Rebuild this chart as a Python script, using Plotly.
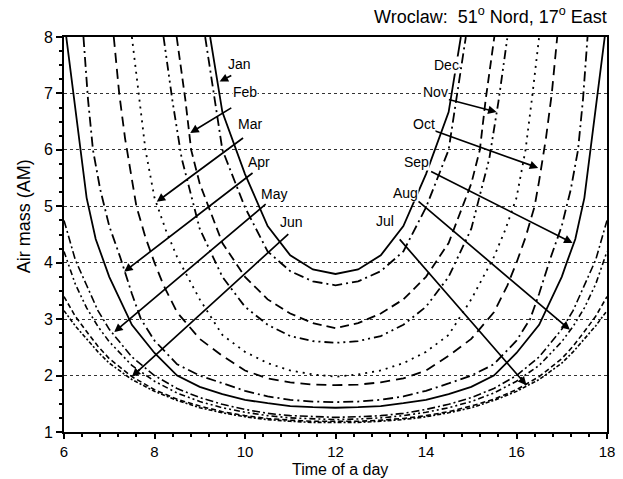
import plotly.graph_objects as go

# Air mass over the day, one curve per month (first day of the month)
JAN_T = [9.23, 9.5, 10, 10.5, 11, 11.5, 12, 12.5, 13, 13.5, 14, 14.5, 14.77]
JAN_AM = [8.0, 6.67, 5.57, 4.65, 4.13, 3.88, 3.80, 3.88, 4.13, 4.65, 5.57, 6.67, 8.0]

DEC_T = [9.12, 9.5, 10, 10.5, 11, 11.5, 12, 12.5, 13, 13.5, 14, 14.5, 14.88]
DEC_AM = [8.0, 6.0, 4.98, 4.2, 3.85, 3.67, 3.60, 3.67, 3.85, 4.2, 4.98, 6.0, 8.0]

FEB_T = [8.49, 8.68, 8.81, 9.0, 9.5, 10, 10.5, 11, 11.5, 12,
         12.5, 13, 13.5, 14, 14.5, 15.0, 15.19, 15.32, 15.51]
FEB_AM = [8.0, 6.9, 6.0, 5.4, 4.35, 3.75, 3.35, 3.1, 2.93, 2.84,
          2.93, 3.1, 3.35, 3.75, 4.35, 5.4, 6.0, 6.9, 8.0]

NOV_T = [8.2, 8.4, 8.6, 9.0, 9.5, 10, 10.5, 11, 11.5, 12,
         12.5, 13, 13.5, 14, 14.5, 15, 15.4, 15.6, 15.8]
NOV_AM = [8.0, 6.85, 5.85, 4.6, 3.75, 3.22, 2.9, 2.7, 2.61, 2.58,
          2.61, 2.7, 2.9, 3.22, 3.75, 4.6, 5.85, 6.85, 8.0]

MAR_T = [7.5, 7.66, 7.8, 8.0, 8.25, 8.5, 9, 9.5, 10, 10.5, 11, 11.5, 12,
         12.5, 13, 13.5, 14, 14.5, 15, 15.5, 15.75, 16.0, 16.2, 16.34, 16.5]
MAR_AM = [8.0, 6.9, 6.0, 5.15, 4.58, 4.1, 3.35, 2.72, 2.42, 2.22, 2.09, 2.02, 1.98,
          2.02, 2.09, 2.22, 2.42, 2.72, 3.35, 4.1, 4.58, 5.15, 6.0, 6.9, 8.0]

OCT_T = [7.1, 7.22, 7.35, 7.5, 7.6, 7.8, 8.0, 8.2, 8.5, 9, 9.5, 10, 10.5, 11, 11.5, 12,
         12.5, 13, 13.5, 14, 14.5, 15, 15.5, 15.8, 16.0, 16.2, 16.4, 16.5, 16.65, 16.78, 16.9]
OCT_AM = [8.0, 7.0, 6.2, 5.45, 5.0, 4.45, 4.0, 3.6, 3.12, 2.65, 2.35, 2.09, 1.95, 1.88, 1.84, 1.83,
          1.84, 1.88, 1.95, 2.09, 2.35, 2.65, 3.12, 3.6, 4.0, 4.45, 5.0, 5.45, 6.2, 7.0, 8.0]

APR_T = [6.43, 6.53, 6.64, 6.8, 7.0, 7.25, 7.5, 7.7, 8.0, 8.5, 9, 9.5, 10, 10.5, 11, 11.5, 12,
         12.5, 13, 13.5, 14, 14.5, 15, 15.5, 16.0, 16.3, 16.5, 16.75, 17.0, 17.2, 17.36, 17.47, 17.57]
APR_AM = [8.0, 6.9, 6.0, 5.3, 4.65, 4.08, 3.45, 3.0, 2.62, 2.2, 2.0, 1.86, 1.73, 1.63, 1.57, 1.54, 1.53,
          1.54, 1.57, 1.63, 1.73, 1.86, 2.0, 2.2, 2.62, 3.0, 3.45, 4.08, 4.65, 5.3, 6.0, 6.9, 8.0]

SEP_T = [6.05, 6.28, 6.5, 6.7, 6.9, 7.0, 7.5, 8.0, 8.5, 9, 9.5, 10, 10.5, 11, 11.5, 12,
         12.5, 13, 13.5, 14, 14.5, 15, 15.5, 16.0, 16.5, 17.0, 17.1, 17.3, 17.5, 17.72, 17.95]
SEP_AM = [8.0, 6.5, 5.15, 4.42, 3.98, 3.75, 2.9, 2.4, 2.0, 1.8, 1.67, 1.57, 1.51, 1.46, 1.44, 1.43,
          1.44, 1.46, 1.51, 1.57, 1.67, 1.8, 2.0, 2.4, 2.9, 3.75, 3.98, 4.42, 5.15, 6.5, 8.0]

SUMMER_T = [6.0, 6.25, 6.5, 6.75, 7.0, 7.5, 8.0, 8.5, 9.0, 9.5, 10.0, 10.5, 11.0, 11.5, 12.0,
            12.5, 13.0, 13.5, 14.0, 14.5, 15.0, 15.5, 16.0, 16.5, 17.0, 17.25, 17.5, 17.75, 18.0]
MAY_AM = [4.75, 4.05, 3.6, 3.15, 2.82, 2.33, 2.0, 1.77, 1.61, 1.49, 1.40, 1.33, 1.29, 1.27, 1.26,
          1.27, 1.29, 1.33, 1.40, 1.49, 1.61, 1.77, 2.0, 2.33, 2.82, 3.15, 3.6, 4.05, 4.75]
AUG_AM = [4.2, 3.62, 3.2, 2.87, 2.6, 2.18, 1.9, 1.69, 1.54, 1.43, 1.35, 1.29, 1.25, 1.23, 1.22,
          1.23, 1.25, 1.29, 1.35, 1.43, 1.54, 1.69, 1.9, 2.18, 2.6, 2.87, 3.2, 3.62, 4.2]
JUN_AM = [3.4, 3.05, 2.78, 2.52, 2.3, 1.98, 1.75, 1.58, 1.46, 1.36, 1.29, 1.24, 1.21, 1.19, 1.19,
          1.19, 1.21, 1.24, 1.29, 1.36, 1.46, 1.58, 1.75, 1.98, 2.3, 2.52, 2.78, 3.05, 3.4]
JUL_AM = [3.15, 2.88, 2.65, 2.42, 2.22, 1.93, 1.72, 1.56, 1.43, 1.34, 1.27, 1.22, 1.19, 1.17, 1.17,
          1.17, 1.19, 1.22, 1.27, 1.34, 1.43, 1.56, 1.72, 1.93, 2.22, 2.42, 2.65, 2.88, 3.15]

MONTHS = ["Jan", "Feb", "Mar", "Apr", "May", "Jun", "Jul", "Aug", "Sep", "Oct", "Nov", "Dec"]
CURVES = {
    "Jan": (JAN_T, JAN_AM), "Dec": (DEC_T, DEC_AM),
    "Feb": (FEB_T, FEB_AM), "Nov": (NOV_T, NOV_AM),
    "Mar": (MAR_T, MAR_AM), "Oct": (OCT_T, OCT_AM),
    "Apr": (APR_T, APR_AM), "Sep": (SEP_T, SEP_AM),
    "May": (SUMMER_T, MAY_AM), "Aug": (SUMMER_T, AUG_AM),
    "Jun": (SUMMER_T, JUN_AM), "Jul": (SUMMER_T, JUL_AM),
}

# Month labels: label text on the left/right, arrow pointing at its curve
ARROW_HEAD_T = {"Jan": 9.44, "Feb": 8.79, "Mar": 8.05, "Apr": 7.33, "May": 7.11, "Jun": 7.5,
                "Dec": 14.76, "Nov": 15.56, "Oct": 16.48, "Sep": 17.24, "Aug": 17.18, "Jul": 16.22}
ARROW_HEAD_AM = {"Jan": 7.21, "Feb": 6.30, "Mar": 5.08, "Apr": 3.84, "May": 2.77, "Jun": 1.98,
                 "Dec": 7.45, "Nov": 6.67, "Oct": 5.68, "Sep": 4.35, "Aug": 2.81, "Jul": 1.83}

X_TICKS = [6, 8, 10, 12, 14, 16, 18]
Y_TICKS = [1, 2, 3, 4, 5, 6, 7, 8]

# drawing styles
STYLE = {
    "Jan": dict(dash="solid", width=1.8),
    "Dec": dict(dash="10px,4px,2px,4px", width=1.8),
    "Feb": dict(dash="9px,5px", width=1.8),
    "Nov": dict(dash="9px,4px,2px,4px,2px,4px", width=1.8),
    "Mar": dict(dash="2px,5px", width=1.8),
    "Oct": dict(dash="10px,6px", width=1.8),
    "Apr": dict(dash="10px,4px,2px,4px", width=1.8),
    "Sep": dict(dash="solid", width=1.8),
    "May": dict(dash="8px,3px,2px,3px", width=1.6),
    "Aug": dict(dash="6px,3px,2px,3px,2px,3px", width=1.6),
    "Jun": dict(dash="5px,3px", width=1.6),
    "Jul": dict(dash="4px,2px,2px,2px", width=1.6),
}
LABEL_POS = {"Jan": (9.88, 7.52), "Feb": (10.01, 7.03), "Mar": (10.1, 6.46), "Apr": (10.31, 5.79),
             "May": (10.64, 5.22), "Jun": (11.03, 4.72),
             "Dec": (14.45, 7.51), "Nov": (14.2, 7.03), "Oct": (13.95, 6.46), "Sep": (13.8, 5.79),
             "Aug": (13.55, 5.24), "Jul": (13.1, 4.74)}
ARROW_TAIL = {"Jan": (9.73, 7.33), "Feb": (9.73, 6.76), "Mar": (9.99, 6.23), "Apr": (10.2, 5.61),
              "May": (10.49, 5.06), "Jun": (10.99, 4.53),
              "Dec": (14.6, 7.51), "Nov": (14.47, 6.9), "Oct": (14.08, 6.37), "Sep": (14.08, 5.63),
              "Aug": (13.8, 5.11), "Jul": (13.39, 4.44)}

FONT = "Liberation Sans, Arial, sans-serif"

fig = go.Figure()
for m in MONTHS:
    t, am = CURVES[m]
    fig.add_trace(go.Scatter(x=t, y=am, mode="lines", name=m, showlegend=False,
                             line=dict(color="black", **STYLE[m])))

annotations = []
for m in MONTHS:
    tx, ty = ARROW_TAIL[m]
    annotations.append(dict(x=ARROW_HEAD_T[m], y=ARROW_HEAD_AM[m], xref="x", yref="y",
                            ax=tx, ay=ty, axref="x", ayref="y", text="", showarrow=True,
                            arrowhead=2, arrowsize=1.0, arrowwidth=1.7, arrowcolor="black"))
    lx, ly = LABEL_POS[m]
    annotations.append(dict(x=lx, y=ly, xref="x", yref="y", text=m, showarrow=False,
                            font=dict(family=FONT, size=14, color="black"),
                            bgcolor="white", borderpad=0))

annotations.append(dict(x=1.003, y=1.055, xref="paper", yref="paper", xanchor="right",
                        yanchor="middle", showarrow=False,
                        text="Wroclaw:  51<sup>o</sup> Nord, 17<sup>o</sup> East",
                        font=dict(family=FONT, size=18, color="black")))
annotations.append(dict(x=0.508, y=-0.095, xref="paper", yref="paper", xanchor="center",
                        yanchor="middle", showarrow=False, text="Time of a day",
                        font=dict(family=FONT, size=16, color="black")))
annotations.append(dict(x=-0.073, y=0.547, xref="paper", yref="paper", xanchor="center",
                        yanchor="middle", showarrow=False, text="Air mass (AM)", textangle=-90,
                        font=dict(family=FONT, size=18, color="black")))

fig.update_layout(
    width=623, height=479, autosize=False,
    margin=dict(l=64, r=8, t=37, b=47),
    paper_bgcolor="white", plot_bgcolor="white",
    annotations=annotations,
    xaxis=dict(range=[6, 18], tickvals=X_TICKS, ticks="outside", ticklen=5, tickwidth=1.5,
               tickcolor="black", showline=True, linewidth=2, linecolor="black", mirror=True,
               showgrid=False, zeroline=False,
               tickfont=dict(family=FONT, size=15, color="black"),
               minor=dict(dtick=0.4, tick0=6, ticks="outside", ticklen=3, tickcolor="black",
                          showgrid=False)),
    yaxis=dict(range=[1, 8], tickvals=Y_TICKS, ticks="outside", ticklen=6, tickwidth=1.5,
               tickcolor="black", showline=True, linewidth=2, linecolor="black", mirror=True,
               showgrid=True, gridcolor="#333333", griddash="dot", gridwidth=1, zeroline=False,
               tickfont=dict(family=FONT, size=16, color="black"),
               minor=dict(dtick=0.25, tick0=1, ticks="outside", ticklen=3, tickcolor="black",
                          showgrid=False)),
)

fig.write_html("out.html")
